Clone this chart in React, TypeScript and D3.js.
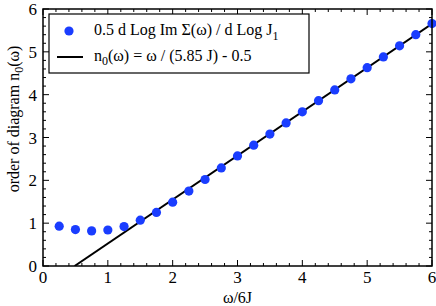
import React from "react";
import * as d3 from "d3";

// data
const omega = [0.25, 0.5, 0.75, 1, 1.25, 1.5, 1.75, 2, 2.25, 2.5, 2.75, 3, 3.25, 3.5, 3.75, 4, 4.25, 4.5, 4.75, 5, 5.25, 5.5, 5.75, 6];
const order = [0.93, 0.85, 0.82, 0.84, 0.92, 1.07, 1.25, 1.49, 1.75, 2.02, 2.29, 2.57, 2.82, 3.08, 3.34, 3.6, 3.86, 4.11, 4.37, 4.63, 4.88, 5.14, 5.4, 5.66];
const majorTicks = [0, 1, 2, 3, 4, 5, 6];
const fitX = [0.4875, 6];

const W = 436;
const H = 306;
const margin = { left: 43, right: 4, top: 9, bottom: 40 };
const blue = "#1a3dff";
const font = "'Liberation Serif', 'DejaVu Serif', serif";

export default function App() {
  const x = d3.scaleLinear().domain([0, 6]).range([margin.left, W - margin.right]);
  const y = d3.scaleLinear().domain([0, 6]).range([H - margin.bottom, margin.top]);
  const fit = (w: number) => (6 * w) / 5.85 - 0.5;
  const line = d3
    .line<number>()
    .x((d) => x(d))
    .y((d) => y(fit(d)));

  const minor = d3.range(0, 6.001, 0.2).filter((v) => Math.abs(v - Math.round(v)) > 1e-6);
  const x0 = x(0), x1 = x(6), y0 = y(0), y1 = y(6);

  return (
    <svg width={W} height={H} style={{ position: "absolute", left: 0, top: 0, background: "#fff" }} fontFamily={font}>
      <defs>
        <clipPath id="plot">
          <rect x={x0} y={y1} width={x1 - x0} height={y0 - y1} />
        </clipPath>
      </defs>

      {/* ticks, inward on all four sides */}
      <g stroke="#000" strokeWidth={1}>
        {majorTicks.map((t) => (
          <g key={"M" + t}>
            <line x1={x(t)} x2={x(t)} y1={y0} y2={y0 - 6} />
            <line x1={x(t)} x2={x(t)} y1={y1} y2={y1 + 6} />
            <line x1={x0} x2={x0 + 6} y1={y(t)} y2={y(t)} />
            <line x1={x1} x2={x1 - 6} y1={y(t)} y2={y(t)} />
          </g>
        ))}
        {minor.map((t) => (
          <g key={"m" + t}>
            <line x1={x(t)} x2={x(t)} y1={y0} y2={y0 - 3} />
            <line x1={x(t)} x2={x(t)} y1={y1} y2={y1 + 3} />
            <line x1={x0} x2={x0 + 3} y1={y(t)} y2={y(t)} />
            <line x1={x1} x2={x1 - 3} y1={y(t)} y2={y(t)} />
          </g>
        ))}
      </g>

      <g clipPath="url(#plot)">
        <path d={line(fitX) || ""} fill="none" stroke="#000" strokeWidth={2} />
      </g>
      {omega.map((w, i) => (
        <circle key={i} cx={x(w)} cy={y(order[i])} r={4.6} fill={blue} />
      ))}

      <rect x={x0} y={y1} width={x1 - x0} height={y0 - y1} fill="none" stroke="#000" strokeWidth={1.5} />

      {/* tick labels */}
      <g fontSize={17} fill="#000">
        {majorTicks.map((t) => (
          <text key={"xl" + t} x={x(t)} y={y0 + 17} textAnchor="middle">{t}</text>
        ))}
        {majorTicks.map((t) => (
          <text key={"yl" + t} x={x0 - 6} y={y(t) + 6} textAnchor="end">{t}</text>
        ))}
      </g>

      {/* axis titles */}
      <text x={(x0 + x1) / 2} y={303} textAnchor="middle" fontSize={16}>ω/6J</text>
      <text transform={`translate(19,119) rotate(-90)`} textAnchor="middle" fontSize={16}>
        order of diagram n<tspan fontSize={12} dy={4}>0</tspan><tspan dy={-4}>(ω)</tspan>
      </text>

      {/* legend */}
      <rect x={49} y={14} width={260} height={59} fill="#fff" stroke="#000" strokeWidth={1.2} />
      <circle cx={69} cy={31} r={4.6} fill={blue} />
      <text x={94} y={35} fontSize={16}>
        0.5 d Log Im Σ(ω) / d Log J<tspan fontSize={12} dy={5}>1</tspan>
      </text>
      <line x1={57} x2={83} y1={57} y2={57} stroke="#000" strokeWidth={2} />
      <text x={94} y={61} fontSize={16}>
        n<tspan fontSize={12} dy={4}>0</tspan><tspan dy={-4}>(ω) = ω / (5.85 J) - 0.5</tspan>
      </text>
    </svg>
  );
}
